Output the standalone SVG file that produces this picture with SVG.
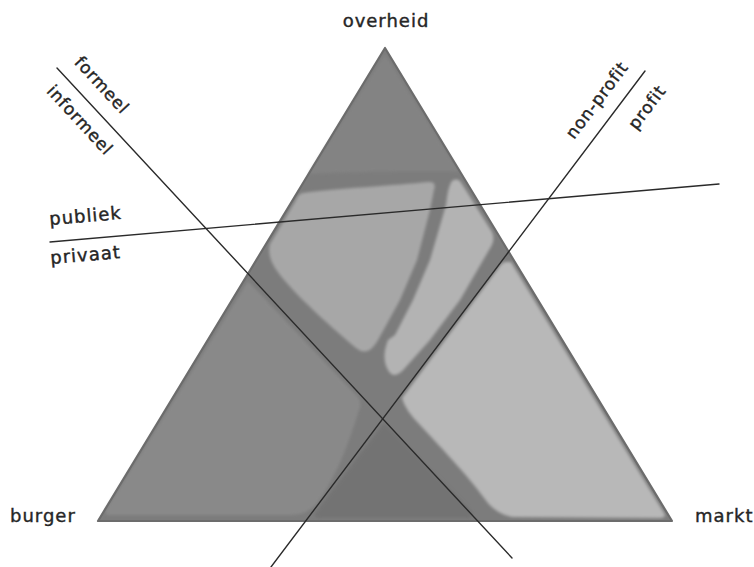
<svg xmlns="http://www.w3.org/2000/svg" width="754" height="567" viewBox="0 0 754 567">
<defs>
<style>
.lbl{font-family:"DejaVu Sans","Liberation Sans",sans-serif;font-size:17px;fill:#262626;stroke:#262626;stroke-width:0.4;letter-spacing:0.8px}
.big{font-size:18px;letter-spacing:1px}
.axis{stroke:#2a2a2a;stroke-width:1.4;fill:none;stroke-linecap:round}
.reg{stroke:none}
</style>
<filter id="soft" x="-5%" y="-5%" width="110%" height="110%"><feGaussianBlur stdDeviation="1.4"/></filter>
</defs>
<rect width="754" height="567" fill="#ffffff"/>
<g id="triangle">
<polygon points="385,48 98,521 672,521" fill="#7c7c7c"/>
<g filter="url(#soft)">
<path id="top-region" class="reg" fill="#838383" d="M385,54 L309,174 C340,172 420,171 459,172 Z"/>
<path id="upper-middle" class="reg" fill="#a7a7a7" d="M303,193 C330,189 400,185 428,182 Q437,181 434,190 L430,210 L417,260 L400,300 L378,340 Q368,358 356,348 C335,330 300,300 280,275 Q266,258 270,244 L296,200 Q298,194 303,193 Z"/>
<path id="upper-right" class="reg" fill="#b3b3b3" d="M452,181 Q458,177 462,184 L492,232 Q496,240 489,250 L460,300 L430,340 L405,368 Q394,381 388,370 Q381,358 388,340 L395,335 L413,300 L430,260 L446,205 Q448,186 452,181 Z"/>
<path id="markt-region" class="reg" fill="#b8b8b8" d="M506,262 L511,262 L664,513 Q667,518 660,518 L512,517 Q495,514 484,498 C470,478 445,452 420,425 Q405,410 402,398 L500,266 Q503,262 506,262 Z"/>
<path id="burger-region" class="reg" fill="#898989" d="M248,281 L358,397 Q363,403 358,413 C350,440 335,480 318,502 Q308,515 292,515 L110,515 Q103,515 107,508 Z"/>
<path id="bottom-center" class="reg" fill="#737373" d="M380,428 L316,512 Q312,518 320,518 L468,518 Q476,517 471,510 L387,425 Q383,421 380,428 Z"/>
</g>
<polygon points="385,48 98,521 672,521" fill="none" stroke="#6c6c6c" stroke-width="2.2" stroke-linejoin="round"/>
</g>
<g id="connectors">
<line class="axis" x1="50" y1="242" x2="719" y2="184"/>
<line class="axis" x1="57" y1="68" x2="512" y2="558"/>
<line class="axis" x1="645" y1="71" x2="271" y2="567"/>
</g>
<g id="node-overheid"><text class="lbl big" x="386" y="27" text-anchor="middle">overheid</text></g>
<g id="node-burger"><text class="lbl big" x="10" y="522">burger</text></g>
<g id="node-markt"><text class="lbl big" x="695" y="522">markt</text></g>
<g id="node-publiek"><text class="lbl big" transform="translate(86,222) rotate(-4.9)" text-anchor="middle">publiek</text></g>
<g id="node-privaat"><text class="lbl big" transform="translate(86,261) rotate(-4.9)" text-anchor="middle">privaat</text></g>
<g id="node-formeel"><text class="lbl" transform="translate(102,85) rotate(47.2)" x="0" y="6" text-anchor="middle">formeel</text></g>
<g id="node-informeel"><text class="lbl" transform="translate(80,120) rotate(47.2)" x="0" y="6" text-anchor="middle">informeel</text></g>
<g id="node-non-profit"><text class="lbl" transform="translate(598,101) rotate(-52.9)" x="0" y="4.5" text-anchor="middle">non-profit</text></g>
<g id="node-profit"><text class="lbl" transform="translate(648,108) rotate(-52.9)" x="0" y="4.5" text-anchor="middle">profit</text></g>
</svg>
